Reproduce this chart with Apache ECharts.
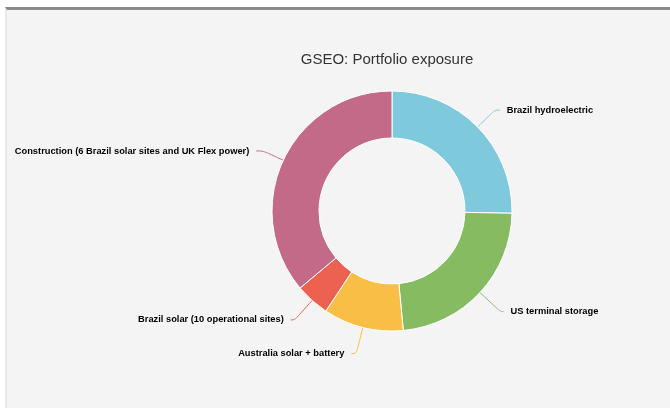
<!DOCTYPE html>
<html>
<head>
<meta charset="utf-8">
<script src="https://cdn.jsdelivr.net/npm/echarts@6/dist/echarts.min.js"></script>
<style>
  html, body { margin: 0; padding: 0; background: #ffffff; width: 670px; height: 408px; overflow: hidden; }
  #panel { position: absolute; left: 5px; top: 7px; width: 665px; height: 401px; box-sizing: border-box;
           background: #f4f4f4; border-top: 3px solid #8a8a8a; border-left: 2px solid #e9e9e9; }
  #chart { position: absolute; left: 0; top: 0; width: 670px; height: 408px; }
</style>
</head>
<body>
<div id="panel"></div>
<div id="chart"></div>
<script>
const titleText = "GSEO: Portfolio exposure";
const categories = [
  "Brazil hydroelectric",
  "US terminal storage",
  "Australia solar + battery",
  "Brazil solar (10 operational sites)",
  "Construction (6 Brazil solar sites and UK Flex power)"
];
const values = [25.3, 23.2, 10.8, 4.6, 36.1];

// styling (not data)
const colors = ["#7fc9dd", "#87bb62", "#f8be45", "#ec614f", "#c36a88"];
const lineLen = [24, 28, 27, 26, 22];
const lineLen2 = [5, 3, 5, 4, 7];

const chart = echarts.init(document.getElementById('chart'), null, { renderer: 'canvas' });
chart.setOption({
  backgroundColor: 'transparent',
  animation: false,
  graphic: [{
    type: 'text',
    x: 387, y: 60,
    style: {
      text: titleText,
      align: 'center', verticalAlign: 'middle',
      fontFamily: 'Liberation Sans, Arial, sans-serif', fontSize: 15, fill: '#333333'
    }
  }],
  series: [{
    type: 'pie',
    center: [392, 211],
    radius: [73, 120],
    startAngle: 90,
    clockwise: true,
    avoidLabelOverlap: false,
    data: categories.map((c, i) => ({
      name: c, value: values[i],
      itemStyle: { color: colors[i] },
      labelLine: { length: lineLen[i], length2: lineLen2[i] }
    })),
    itemStyle: { borderColor: '#ffffff', borderWidth: 1 },
    label: {
      show: true,
      position: 'outside',
      formatter: '{b}',
      fontFamily: 'Liberation Sans, Arial, sans-serif',
      fontSize: 9.3,
      fontWeight: 'bold',
      color: '#000000',
      distanceToLabelLine: 7
    },
    labelLine: { show: true, smooth: 0.4, lineStyle: { width: 1 } },
    emphasis: { disabled: true }
  }]
});
</script>
</body>
</html>
